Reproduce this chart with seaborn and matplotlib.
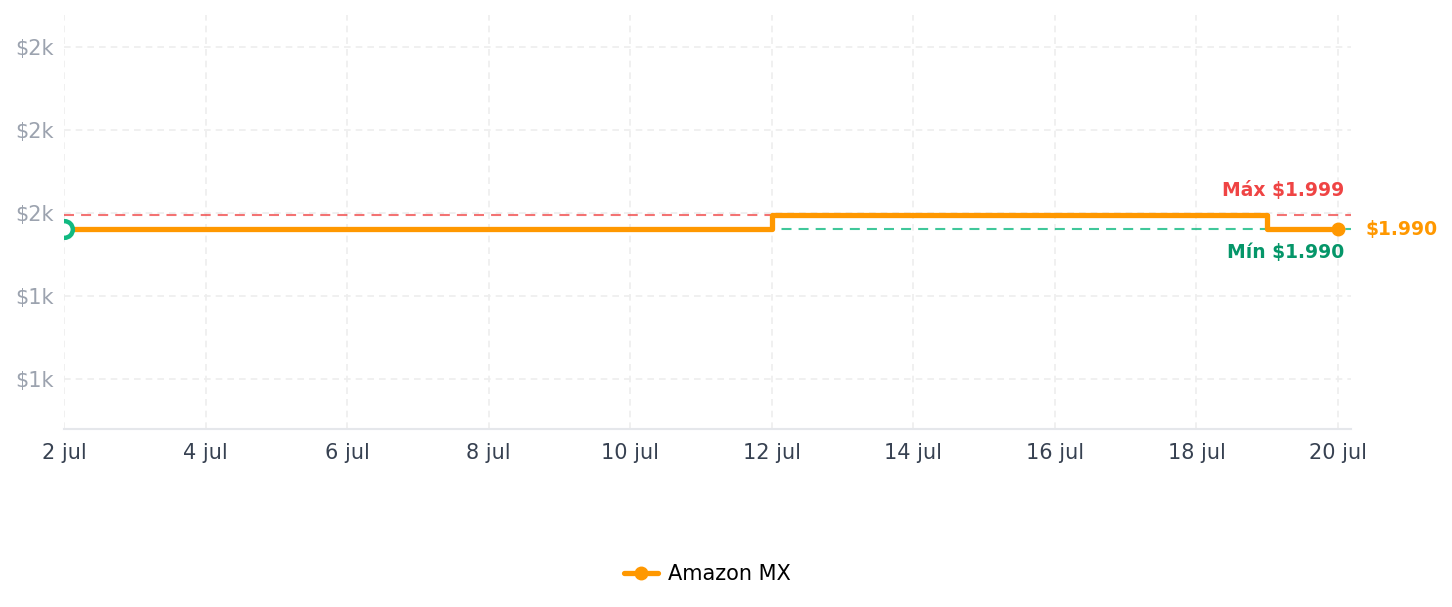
import matplotlib
matplotlib.use("Agg")
import matplotlib.pyplot as plt
from matplotlib.lines import Line2D
import seaborn as sns
import pandas as pd

# ---- data ----
dates = pd.date_range("2025-07-02", "2025-07-20", freq="D")
prices = [1990, 1990, 1990, 1990, 1990, 1990, 1990, 1990, 1990, 1990,
          1999, 1999, 1999, 1999, 1999, 1999, 1999, 1990, 1990]
series_name = "Amazon MX"
y_ticks = [1900, 1950, 2000, 2050, 2100]
y_tick_labels = ["$1k", "$1k", "$2k", "$2k", "$2k"]
x_tick_dates = pd.date_range("2025-07-02", "2025-07-20", freq="2D")
x_tick_labels = ["2 jul", "4 jul", "6 jul", "8 jul", "10 jul", "12 jul",
                 "14 jul", "16 jul", "18 jul", "20 jul"]
max_label = "Máx $1.999"
min_label = "Mín $1.990"
last_label = "$1.990"

ORANGE = "#ff9800"
RED = "#ef4444"
GREEN = "#059669"
GREEN_L = "#10b981"

sns.set_theme(style="white")
plt.rcParams["font.family"] = ["DejaVu Sans"]

fig = plt.figure(figsize=(14.52, 6.07), dpi=100)
ax = fig.add_axes([64 / 1452, 1 - 429 / 607, (1351 - 64) / 1452, (429 - 15) / 607])

df = pd.DataFrame({"date": dates, "price": prices})
pmax, pmin = max(prices), min(prices)

# reference lines
ax.axhline(pmax, color=RED, alpha=0.75, lw=1.5, ls=(0, (4.8, 3.4)), zorder=2)
ax.axhline(pmin, color=GREEN_L, alpha=0.8, lw=1.5, ls=(0, (4.8, 3.4)), zorder=2)

sns.lineplot(data=df, x="date", y="price", drawstyle="steps-post",
             color=ORANGE, lw=3.8, ax=ax, zorder=4, legend=False)

# start and end markers
ax.plot([dates[0]], [prices[0]], marker="o", ms=12, mfc="white",
        mec=GREEN_L, mew=3.2, zorder=5, ls="none")
ax.plot([dates[-1]], [prices[-1]], marker="o", ms=9, color=ORANGE,
        zorder=5, ls="none", clip_on=False)

ax.annotate(max_label, xy=(dates[-1], pmax), xytext=(4.5, 17),
            textcoords="offset points", ha="right", va="center",
            color=RED, fontsize=13.5, fontweight="bold")
ax.annotate(min_label, xy=(dates[-1], pmin), xytext=(4.5, -16.5),
            textcoords="offset points", ha="right", va="center",
            color=GREEN, fontsize=13.5, fontweight="bold")
ax.annotate(last_label, xy=(dates[-1], prices[-1]), xytext=(20, 0),
            textcoords="offset points", ha="left", va="center",
            color=ORANGE, fontsize=13.5, fontweight="bold")

ax.set_xlim(dates[0], dates[-1] + pd.Timedelta(hours=4.4))
ax.set_ylim(pmin - 120, pmax + 120)
ax.set_yticks(y_ticks)
ax.set_yticklabels(y_tick_labels)
ax.set_xticks(x_tick_dates)
ax.set_xticklabels(x_tick_labels)
ax.set_xlabel("")
ax.set_ylabel("")

ax.tick_params(axis="y", length=0, pad=7.5, labelsize=15, labelcolor="#9ca3af")
ax.tick_params(axis="x", length=0, pad=10, labelsize=15, labelcolor="#374151")

ax.grid(True, color="#eeeeee", lw=1.2, ls=(0, (4, 3)))
ax.set_axisbelow(True)
for s in ["left", "top", "right"]:
    ax.spines[s].set_visible(False)
ax.spines["bottom"].set_color("#e5e7eb")
ax.spines["bottom"].set_linewidth(1.5)

handle = Line2D([], [], color=ORANGE, lw=3.8, marker="o", ms=9)
leg = ax.legend([handle], [series_name], loc="center", bbox_to_anchor=(0.5, -0.35),
                frameon=False, fontsize=15, handlelength=1.6, handletextpad=0.5)
for t in leg.get_texts():
    t.set_color("black")

fig.savefig("out.png", dpi=100, facecolor="white")
